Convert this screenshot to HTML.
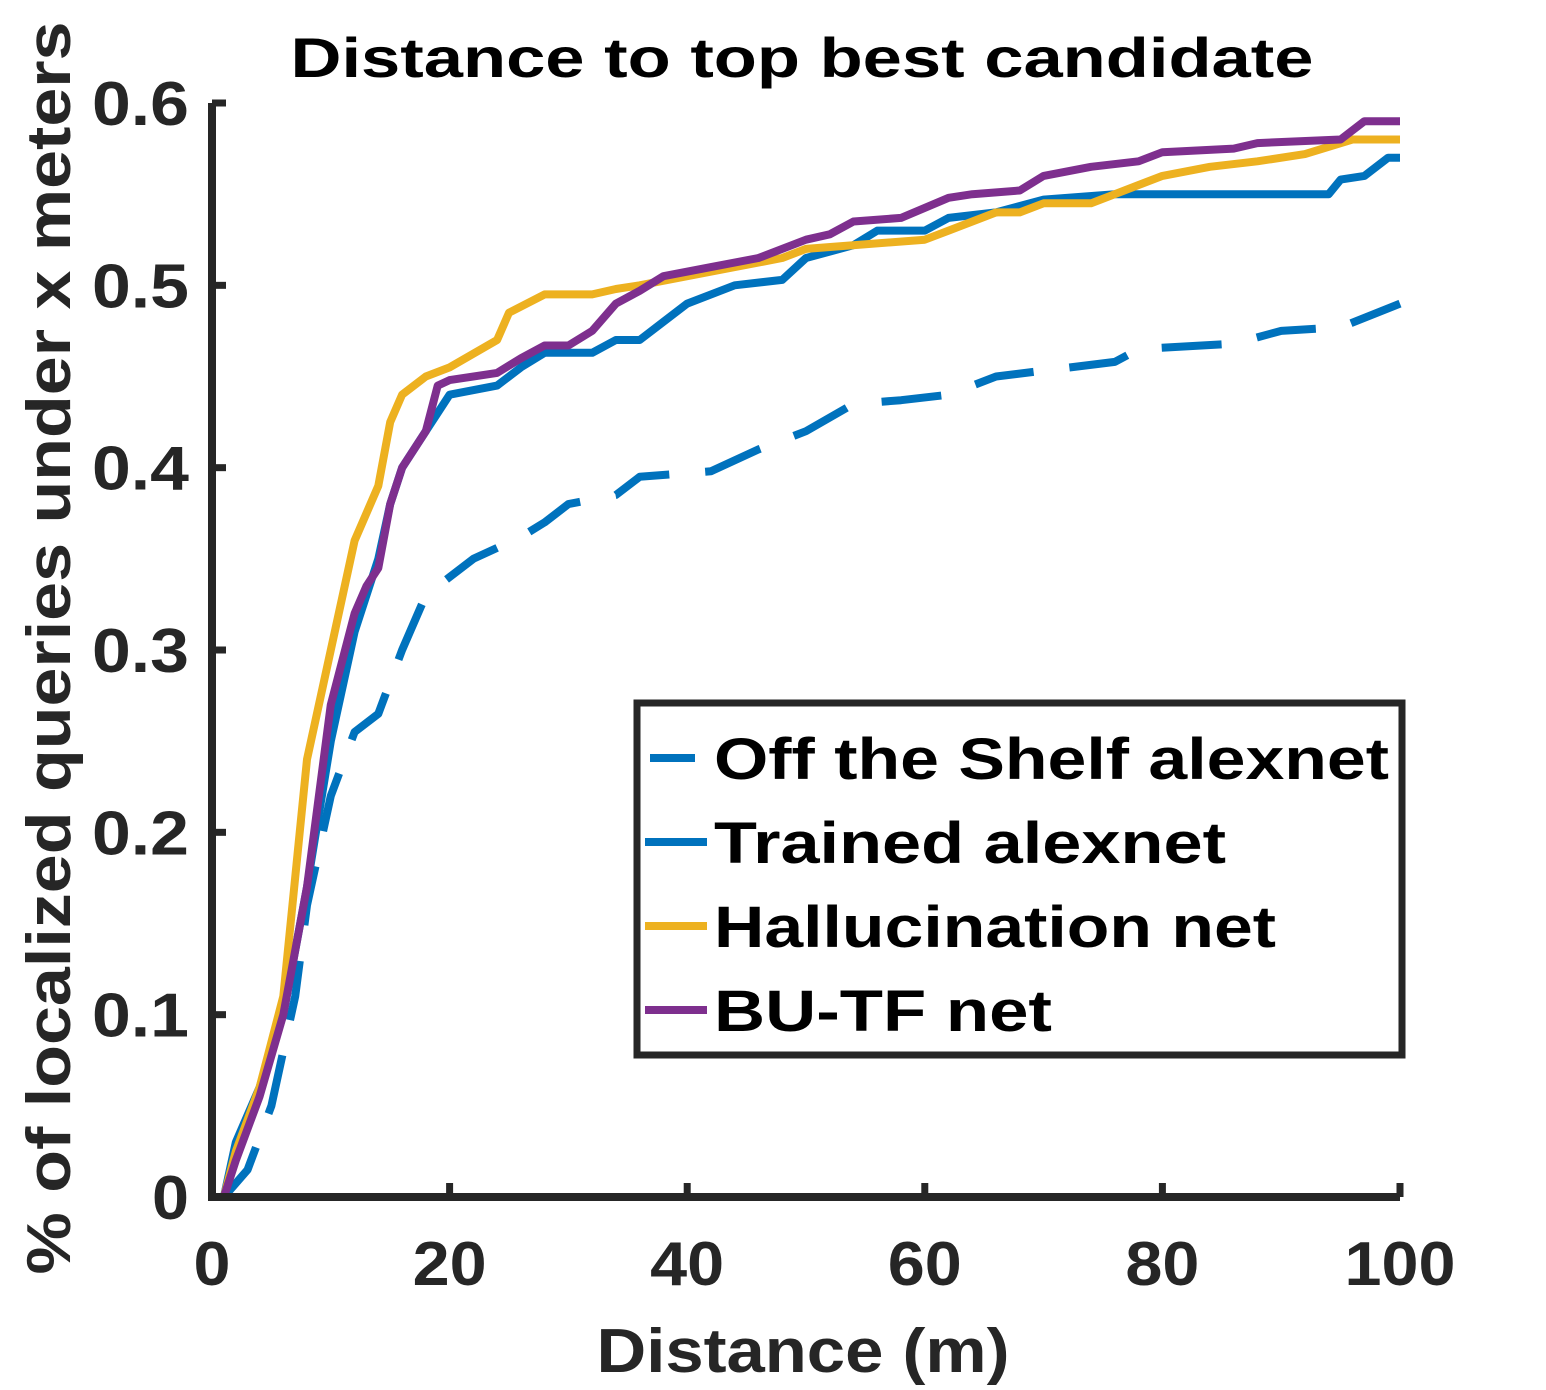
<!DOCTYPE html>
<html><head><meta charset="utf-8"><style>
html,body{margin:0;padding:0;background:#fff;}
svg{display:block;font-family:"Liberation Sans",Arial,sans-serif;font-weight:bold;}
</style></head><body>
<svg id="chart" width="1546" height="1390" viewBox="0 0 1546 1390">
<g id="plot"></g>
</svg>
<script>
const xTicks=[0,20,40,60,80,100];
const yTicks=[0,0.1,0.2,0.3,0.4,0.5,0.6];
const yTickLabels=["0","0.1","0.2","0.3","0.4","0.5","0.6"];
const seriesNames=["Off the Shelf alexnet","Trained alexnet","Hallucination net","BU-TF net"];
const offX=[1,3,5,7,8,10,12,14,16,18,20,22,26,28,30,34,36,42,46,50,54,58,62,66,76,78,86,90,95,100];
const offY=[0,0.015,0.05,0.11,0.16,0.22,0.255,0.265,0.30,0.33,0.34,0.35,0.362,0.37,0.38,0.385,0.395,0.398,0.41,0.42,0.435,0.437,0.44,0.45,0.458,0.465,0.468,0.475,0.477,0.49];
const trX=[1,2,4,6,8,10,12,14,15,16,18,20,24,26,28,32,34,36,38,40,44,48,50,54,56,60,62,66,70,76,94,95,97,99,100];
const trY=[0,0.03,0.06,0.10,0.17,0.25,0.31,0.35,0.38,0.40,0.42,0.44,0.445,0.455,0.463,0.463,0.47,0.47,0.48,0.49,0.50,0.503,0.515,0.522,0.53,0.53,0.537,0.54,0.547,0.55,0.55,0.558,0.56,0.57,0.57];
const haX=[1,2,4,6,8,10,12,14,15,16,18,20,24,25,28,32,34,36,40,44,48,50,60,62,66,68,70,74,78,80,84,88,92,96,100];
const haY=[0,0.025,0.06,0.11,0.24,0.30,0.36,0.39,0.425,0.44,0.45,0.455,0.47,0.485,0.495,0.495,0.498,0.5,0.505,0.51,0.515,0.52,0.525,0.53,0.54,0.54,0.545,0.545,0.555,0.56,0.565,0.568,0.572,0.58,0.58];
const buX=[1,2,4,6,8,10,12,13,14,15,16,18,19,20,24,26,28,30,32,34,36,38,42,46,50,52,54,58,62,64,68,70,74,78,80,86,88,95,97,100];
const buY=[0,0.02,0.055,0.10,0.17,0.27,0.32,0.335,0.345,0.38,0.40,0.42,0.445,0.448,0.452,0.46,0.467,0.467,0.475,0.49,0.497,0.505,0.51,0.515,0.525,0.528,0.535,0.537,0.548,0.55,0.552,0.56,0.565,0.568,0.573,0.575,0.578,0.58,0.59,0.59];

const X0=212,X1=1400,Y0=1197,Y1=103;
const sx=v=>X0+(v-0)/(100-0)*(X1-X0);
const sy=v=>Y0-(v-0)/(0.6-0)*(Y0-Y1);
const NS="http://www.w3.org/2000/svg";
const g=document.getElementById('plot');
function mk(tag,attrs,parent){const e=document.createElementNS(NS,tag);for(const k in attrs)e.setAttribute(k,attrs[k]);(parent||g).appendChild(e);return e;}
function path(xs,ys){return xs.map((x,i)=>(i?'L':'M')+sx(x).toFixed(1)+','+sy(ys[i]).toFixed(1)).join(' ');}

const series=[[offX,offY,'#0072BD','60 36'],[trX,trY,'#0072BD',null],[haX,haY,'#EDB120',null],[buX,buY,'#7E2F8E',null]];
const snames=['series-off-the-shelf','series-trained-alexnet','series-hallucination-net','series-bu-tf-net'];
series.forEach((s,i)=>{
  const p=mk('path',{d:path(s[0],s[1]),fill:'none',stroke:s[2],'stroke-width':8,'stroke-linejoin':'round'});
  if(s[3])p.setAttribute('stroke-dasharray',s[3]);
  
  
});

const ax=mk('path',{d:`M${X0},${Y1} L${X0},${Y0} L${X1},${Y0}`,fill:'none',stroke:'#262626','stroke-width':8});


xTicks.forEach(t=>{
  const l=mk('line',{x1:sx(t),x2:sx(t),y1:Y0,y2:Y0-14,stroke:'#262626','stroke-width':7});
  
  
  const s=String(t);
  const tx=mk('text',{x:sx(t),y:1285,'text-anchor':'middle','font-size':62,fill:'#262626',textLength:s.length*37,lengthAdjust:'spacingAndGlyphs'});
  tx.textContent=s;
  
  
});
yTicks.forEach((t,i)=>{
  const l=mk('line',{x1:X0,x2:X0+14,y1:sy(t),y2:sy(t),stroke:'#262626','stroke-width':7});
  
  
  const s=yTickLabels[i];
  const tx=mk('text',{x:189,y:sy(t)+22,'text-anchor':'end','font-size':62,fill:'#262626',textLength:s.length===1?37:97,lengthAdjust:'spacingAndGlyphs'});
  tx.textContent=s;
  
  
});
const title=mk('text',{x:802,y:77,'text-anchor':'middle','font-size':56,fill:'#000',textLength:1023,lengthAdjust:'spacingAndGlyphs'});
title.textContent='Distance to top best candidate';


const xl=mk('text',{x:803,y:1372,'text-anchor':'middle','font-size':62,fill:'#262626',textLength:413,lengthAdjust:'spacingAndGlyphs'});
xl.textContent='Distance (m)';


const yl=mk('text',{x:0,y:0,'text-anchor':'middle','font-size':62,fill:'#262626',textLength:1253,lengthAdjust:'spacingAndGlyphs',transform:'translate(70,648) rotate(-90)'});
yl.textContent='% of localized queries under x meters';



const lg=mk('g',{});


mk('rect',{x:637,y:703,width:765,height:352,fill:'#fff',stroke:'#262626','stroke-width':7},lg);
const legW=[675,512,562,338];
series.forEach((s,i)=>{
  const yy=758+i*84;
  const l=mk('line',{x1:645,x2:707,y1:yy,y2:yy,stroke:s[2],'stroke-width':8},lg);
  
  
  if(s[3]){l.setAttribute('x1',650);l.setAttribute('x2',695);}
  const t=mk('text',{x:714,y:yy+21,'font-size':58,fill:'#000',textLength:legW[i],lengthAdjust:'spacingAndGlyphs'},lg);
  t.textContent=seriesNames[i];
  
  
});
</script>
</body></html>
